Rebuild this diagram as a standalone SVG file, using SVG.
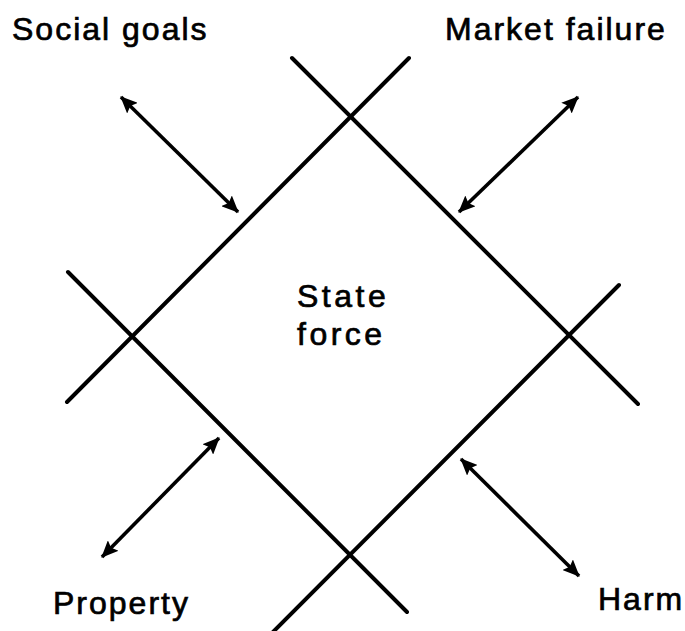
<svg xmlns="http://www.w3.org/2000/svg" width="685" height="631" viewBox="0 0 685 631">
<defs>
<style>
.frame{stroke:#000;stroke-width:4;stroke-linecap:round;fill:none}
.arr{stroke:#000;stroke-width:3.6;fill:none;marker-start:url(#ah);marker-end:url(#ah)}
.lbl{font-family:"Liberation Sans",Arial,sans-serif;font-size:32px;fill:#000;stroke:#000;stroke-width:0.7px;letter-spacing:2px}
.ctr{letter-spacing:3.5px}
</style>
<marker id="ah" markerUnits="userSpaceOnUse" viewBox="0 0 17 15" refX="16" refY="7.5" markerWidth="17" markerHeight="15" orient="auto-start-reverse">
<path d="M0,0 L17,7.5 L0,15 L3,7.5 Z" fill="#000"/>
</marker>
</defs>
<rect width="685" height="631" fill="#fff"/>
<g id="connectors">
<g id="frame-lines">
<line class="frame" x1="292" y1="58" x2="638" y2="404"/>
<line class="frame" x1="409" y1="58" x2="67" y2="402"/>
<line class="frame" x1="68" y1="272" x2="407" y2="612"/>
<line class="frame" x1="619" y1="285" x2="271" y2="634"/>
</g>
<line id="arrow-social" class="arr" x1="121" y1="97" x2="238" y2="212"/>
<line id="arrow-market" class="arr" x1="578" y1="97" x2="459" y2="212"/>
<line id="arrow-property" class="arr" x1="102" y1="557" x2="219" y2="438"/>
<line id="arrow-harm" class="arr" x1="461" y1="459" x2="579" y2="576"/>
</g>
<g id="state-force"><text class="lbl ctr" x="297" y="307">State</text><text class="lbl ctr" x="297" y="345">force</text></g>
<g id="social-goals"><text class="lbl" x="12" y="40">Social goals</text></g>
<g id="market-failure"><text class="lbl" x="445" y="40">Market failure</text></g>
<g id="property"><text class="lbl" x="53" y="614">Property</text></g>
<g id="harm"><text class="lbl" x="598" y="610">Harm</text></g>
</svg>
